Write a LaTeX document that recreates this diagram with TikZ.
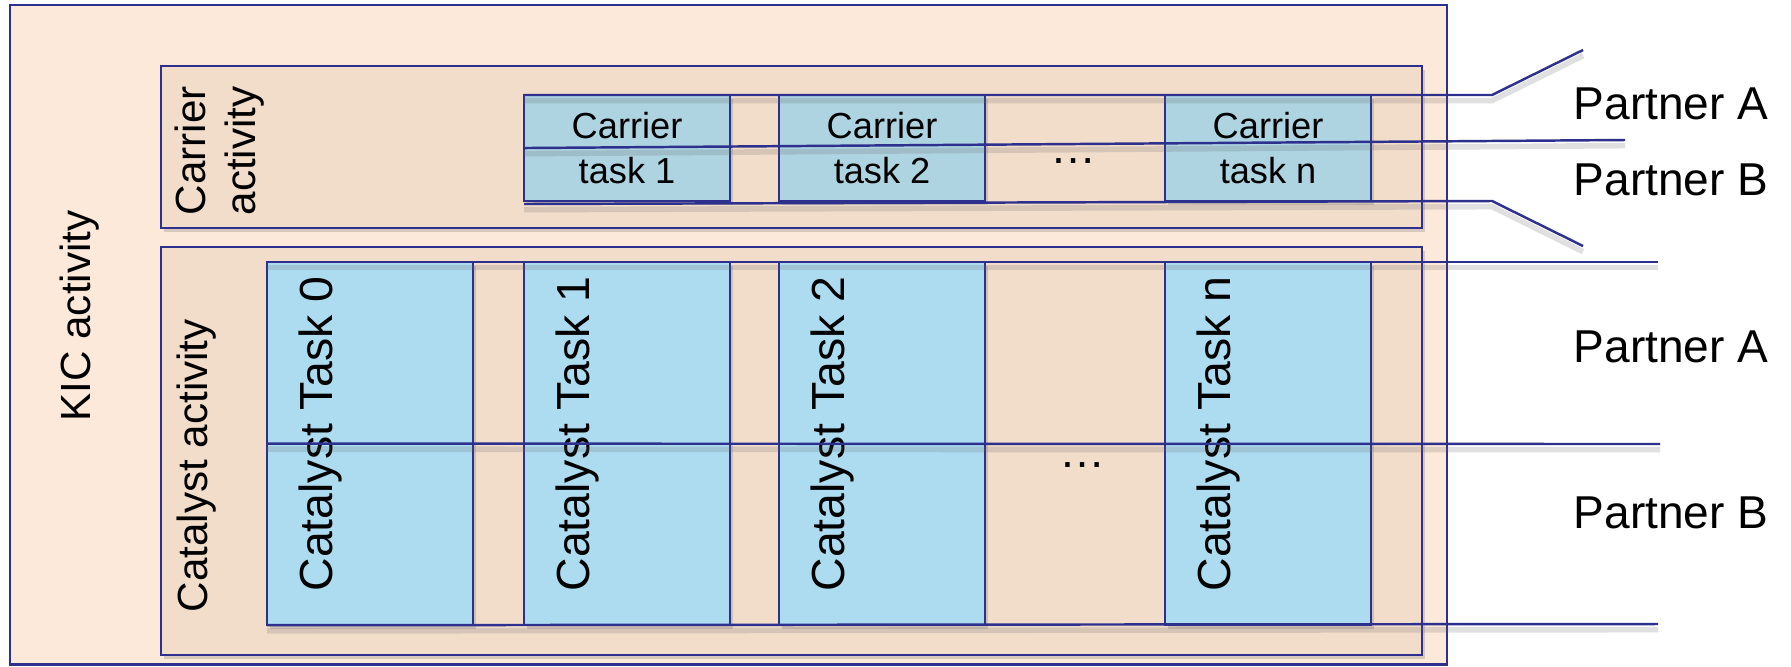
\documentclass[tikz,border=0pt]{standalone}
\usepackage{fontspec}
\setmainfont{Liberation Sans}
\usetikzlibrary{shadows}

\definecolor{navy}{RGB}{46,48,142}
\definecolor{kicfill}{RGB}{253,233,218}
\definecolor{actfill}{RGB}{242,221,203}
\definecolor{carfill}{RGB}{174,211,225}
\definecolor{catfill}{RGB}{173,220,241}

\tikzset{
  box/.style={draw=navy, line width=0.65pt, inner sep=0pt, outer sep=0pt, anchor=north west},
  boxshadow/.style={drop shadow={opacity=0.3, shadow xshift=0.8pt, shadow yshift=-1.2pt}},
  activity/.style={box, boxshadow, fill=actfill, minimum width=12.6cm},
  carriertask/.style={box, boxshadow, fill=carfill, minimum width=2.06cm, minimum height=1.06cm,
    align=center, font=\fontsize{10.3}{12.8}\selectfont},
  catalysttask/.style={box, boxshadow, fill=catfill, minimum width=2.06cm, minimum height=3.63cm},
  tasklabel/.style={rotate=90, anchor=base, inner sep=0pt, font=\fontsize{13.2}{15.5}\selectfont},
  sidelabel/.style={rotate=90, inner sep=0pt, font=\fontsize{12}{14.2}\selectfont},
  partner/.style={anchor=base west, inner sep=0pt, font=\fontsize{13.1}{15.5}\selectfont},
  split/.style={draw=navy, line width=0.7pt,
    preaction={draw=black!60, opacity=0.2, line width=1.6pt, transform canvas={yshift=-1.6pt}}},
}

\begin{document}
\begin{tikzpicture}[x=0.01cm, y=-0.01cm]
  \useasboundingbox (0,0) rectangle (1791,666);

  \node[box, fill=kicfill, minimum width=14.36cm, minimum height=6.59cm] (kic) at (10,5) {};
  \node[activity, minimum height=1.62cm] (carrier) at (161,66) {};
  \node[activity, minimum height=4.08cm] (catalyst) at (161,247) {};

  \foreach \i/\x in {1/524, 2/779, n/1165}
    \node[carriertask] (car\i) at (\x,95) {Carrier\\task \i};

  \foreach \i/\x in {0/267, 1/524, 2/779, n/1165} {
    \node[catalysttask] (cat\i) at (\x,262) {};
    \node[tasklabel] (catlab\i) at (\x+65,434) {Catalyst Task \i};
  }

  \node[partner] (dotscar) at (1050,163) {…};
  \node[partner] (dotscat) at (1059,467) {…};

  \node[sidelabel, anchor=base] (kiclab) at (90,316) {KIC activity};
  \node[sidelabel, anchor=north west, align=left] (carlab) at (174,216) {Carrier\\activity};
  \node[sidelabel, anchor=base west] (catlab) at (207,613) {Catalyst activity};

  \coordinate (ka) at (1492,95);
  \coordinate (kaend) at (1583,50);
  \coordinate (kmid) at (1625,140);
  \coordinate (kb0) at (524,204);
  \coordinate (kb) at (1492,201);
  \coordinate (kbend) at (1583,246);
  \coordinate (ctop) at (1658,262);
  \coordinate (cmid) at (1660,444);
  \coordinate (cbot) at (1658,624);

  \draw[split] (car1.north west) -- (ka) -- (kaend);
  \draw[split] (car1.west) -- (kmid);
  \draw[split] (kb0) -- (kb) -- (kbend);
  \draw[split] (cat0.north west) -- (ctop);
  \draw[split] (cat0.west) -- (cmid);
  \draw[split] (cat0.south west) -- (cbot);

  \node[partner] (pa1) at (1573,119) {Partner A};
  \node[partner] (pb1) at (1573,195) {Partner B};
  \node[partner] (pa2) at (1573,362) {Partner A};
  \node[partner] (pb2) at (1573,528) {Partner B};
\end{tikzpicture}
\end{document}
